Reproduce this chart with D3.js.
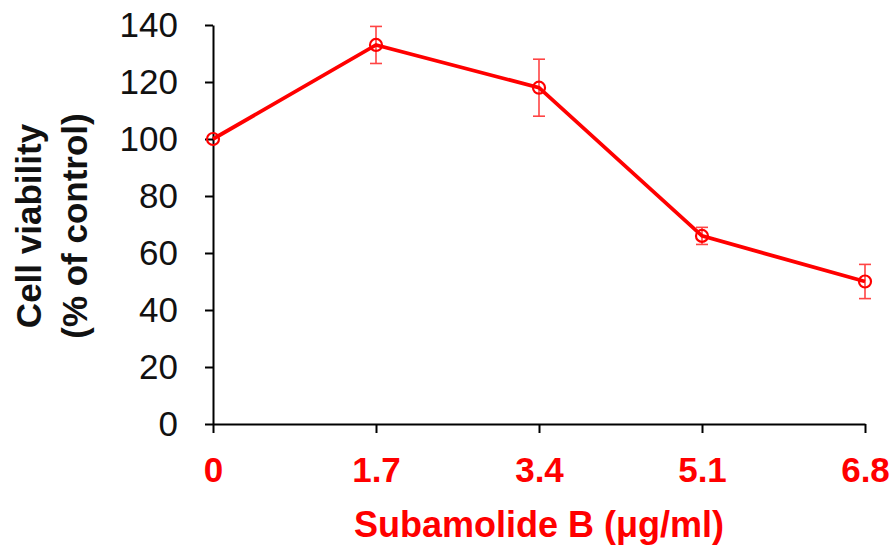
<!DOCTYPE html>
<html>
<head>
<meta charset="utf-8">
<script src="https://cdn.jsdelivr.net/npm/d3@7"></script>
<style>
  body { margin: 0; background: #fff; }
  svg { display: block; font-family: "Liberation Sans", Arial, sans-serif; }
</style>
</head>
<body>
<div id="root"></div>
<script>
// data
const doses = [0, 1.7, 3.4, 5.1, 6.8];
const viability = [100, 133, 118, 66, 50];
const errors = [0, 6.5, 10, 3, 6];
const yTicks = [0, 20, 40, 60, 80, 100, 120, 140];

const W = 894, H = 551;
const margin = {top: 25, right: 29, bottom: 127, left: 213},
    width = W - margin.left - margin.right,
    height = H - margin.top - margin.bottom;

const svg = d3.select("#root").append("svg")
    .attr("width", W)
    .attr("height", H)
  .append("g")
    .attr("transform", "translate(" + margin.left + "," + margin.top + ")");

const x = d3.scaleLinear().domain([0, 6.8]).range([0, width]);
const y = d3.scaleLinear().domain([0, 140]).range([height, 0]);

// y axis
const yAxis = svg.append("g")
    .call(d3.axisLeft(y).tickValues(yTicks).tickSize(8).tickSizeOuter(0).tickPadding(27));
yAxis.select(".domain").attr("stroke", "#000").attr("stroke-width", 2);
yAxis.selectAll(".tick line").attr("stroke", "#000").attr("stroke-width", 2);
yAxis.selectAll(".tick text")
    .attr("font-size", 35)
    .attr("fill", "#111");

// x axis
const xAxis = svg.append("g")
    .attr("transform", "translate(0," + height + ")")
    .call(d3.axisBottom(x).tickValues(doses).tickSize(9).tickSizeOuter(0).tickPadding(24)
      .tickFormat(d => d === 0 ? "0" : d3.format(".1f")(d)));
xAxis.select(".domain").attr("stroke", "#000").attr("stroke-width", 2);
xAxis.selectAll(".tick line").attr("stroke", "#000").attr("stroke-width", 2);
xAxis.selectAll(".tick text")
    .attr("font-size", 35)
    .attr("font-weight", "bold")
    .attr("fill", "#f00");

// axis titles
svg.append("text")
    .attr("x", width / 2)
    .attr("y", height + 113)
    .attr("text-anchor", "middle")
    .attr("font-size", 36)
    .attr("font-weight", "bold")
    .attr("fill", "#f00")
    .text("Subamolide B (\u03bcg/ml)");

const ylab = svg.append("text")
    .attr("transform", "translate(" + (-172) + "," + 201 + ") rotate(-90)")
    .attr("text-anchor", "middle")
    .attr("font-size", 35)
    .attr("font-weight", "bold")
    .attr("fill", "#111");
ylab.append("tspan").attr("x", 0).attr("dy", 0).text("Cell viability");
ylab.append("tspan").attr("x", 0).attr("dy", 46).text("(% of control)");

const pts = doses.map((d, i) => ({dose: d, v: viability[i], e: errors[i]}));

// error bars
const eb = svg.selectAll(".err")
    .data(pts.filter(d => d.e > 0))
    .enter().append("g")
    .attr("class", "err")
    .attr("stroke", "#f44")
    .attr("stroke-width", 1.6);
eb.append("line")
    .attr("x1", d => x(d.dose)).attr("x2", d => x(d.dose))
    .attr("y1", d => y(d.v + d.e)).attr("y2", d => y(d.v - d.e));
eb.append("line")
    .attr("x1", d => x(d.dose) - 6).attr("x2", d => x(d.dose) + 6)
    .attr("y1", d => y(d.v + d.e)).attr("y2", d => y(d.v + d.e));
eb.append("line")
    .attr("x1", d => x(d.dose) - 6).attr("x2", d => x(d.dose) + 6)
    .attr("y1", d => y(d.v - d.e)).attr("y2", d => y(d.v - d.e));

// line
svg.append("path")
    .datum(pts)
    .attr("fill", "none")
    .attr("stroke", "#f00")
    .attr("stroke-width", 3.8)
    .attr("d", d3.line().x(d => x(d.dose)).y(d => y(d.v)));

// markers
svg.selectAll(".dot")
    .data(pts)
    .enter().append("circle")
    .attr("class", "dot")
    .attr("cx", d => x(d.dose))
    .attr("cy", d => y(d.v))
    .attr("r", 6)
    .attr("fill", "none")
    .attr("stroke", "#f00")
    .attr("stroke-width", 2.2);
</script>
</body>
</html>
